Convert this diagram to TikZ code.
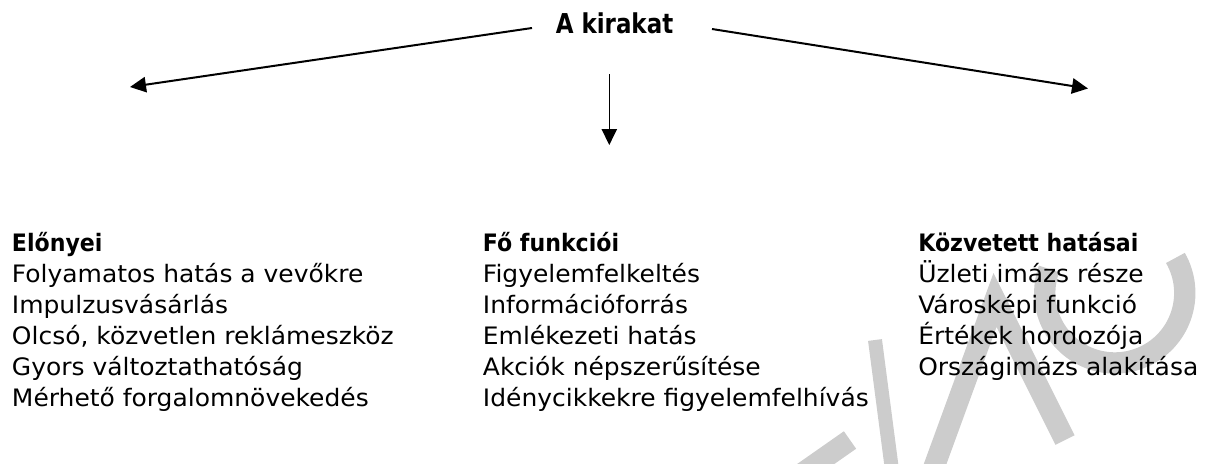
\documentclass[tikz,border=0pt]{standalone}
\usepackage{fontspec}
\setmainfont{DejaVu Sans}[FakeStretch=1.04]
\newfontfamily\headfont{DejaVu Sans Bold}[FakeStretch=0.92]
\newfontfamily\titlefont{DejaVu Sans Bold}[FakeStretch=0.84]
\usetikzlibrary{arrows.meta}
\definecolor{wmgray}{RGB}{204,204,204}
\tikzset{
  body/.style={anchor=base west, inner sep=0pt, font=\fontsize{18pt}{22pt}\selectfont},
  head/.style={anchor=base west, inner sep=0pt, font=\headfont\fontsize{18pt}{22pt}\selectfont},
  title/.style={anchor=base, inner sep=0pt, font=\titlefont\fontsize{20.5pt}{24pt}\selectfont},
  arr/.style={line width=1.5pt, -{Triangle[length=12pt,width=11.5pt]}},
  wm/.style={draw=wmgray, line cap=butt}
}
\begin{document}
\begin{tikzpicture}[x=0.75pt,y=-0.75pt]
\useasboundingbox (0,0) rectangle (1215,464);
% light grey background lettering
\begin{scope}
\clip (0,0) rectangle (1215,464);
\draw[wm, line width=10.5pt] (875,340) -- (892,470);
\draw[wm, line width=16pt] (790,482) -- (850,440);
\draw[wm, line width=16pt] (930,478) -- (995,300) -- (1065,440);
\draw[wm, line width=16pt] (1049,269) arc[start angle=200, end angle=-30, radius=70];
\end{scope}

% title and its three arrows
\node[title] (top) at (614.5,33.3) {A kirakat};
\coordinate (ls) at (532,28);
\coordinate (rs) at (712,29);
\coordinate (ms) at (609.3,74);
\coordinate (lt) at (130,87);
\coordinate (rt) at (1088,88.5);
\coordinate (mt) at (609.3,145);
\draw[arr] (ls) -- (lt);
\draw[arr] (rs) -- (rt);
\draw[arr, line width=1.2pt] (ms) -- (mt);

% left column
\node[head] (l0) at (11.7,251.7) {Előnyei};
\node[body] (l1) at (11.7,282.7) {Folyamatos hatás a vevőkre};
\node[body] (l2) at (11.7,313.5) {Impulzusvásárlás};
\node[body] (l3) at (11.7,344.3) {Olcsó, közvetlen reklámeszköz};
\node[body] (l4) at (11.7,375.2) {Gyors változtathatóság};
\node[body] (l5) at (11.7,406) {Mérhető forgalomnövekedés};

% middle column
\node[head] (m0) at (482.7,251.7) {Fő funkciói};
\node[body] (m1) at (482.7,282.7) {Figyelemfelkeltés};
\node[body] (m2) at (482.7,313.5) {Információforrás};
\node[body] (m3) at (482.7,344.3) {Emlékezeti hatás};
\node[body] (m4) at (482.7,375.2) {Akciók népszerűsítése};
\node[body] (m5) at (482.7,406) {Idénycikkekre figyelemfelhívás};

% right column
\node[head] (r0) at (918,251.7) {Közvetett hatásai};
\node[body] (r1) at (918,282.7) {Üzleti imázs része};
\node[body] (r2) at (918,313.5) {Városképi funkció};
\node[body] (r3) at (918,344.3) {Értékek hordozója};
\node[body] (r4) at (918,375.2) {Országimázs alakítása};
\end{tikzpicture}
\end{document}
